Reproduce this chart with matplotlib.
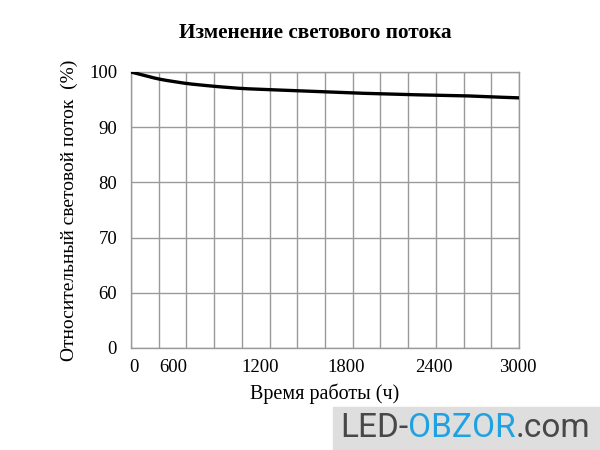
import numpy as np
import matplotlib
matplotlib.use('Agg')
from matplotlib import pyplot as plt
from matplotlib.patches import Rectangle

# curve (hours, relative flux %)
hours = [0, 214, 429, 643, 857, 1286, 1714, 2143, 2571, 3000]
flux = [100, 98.7, 97.9, 97.4, 97.0, 96.6, 96.2, 95.9, 95.7, 95.3]

# tick labels as printed (positions in the original drawing are uneven)
xtick_pos = [20, 330, 1000, 1660, 2340, 2990]
xtick_lab = ['0', '600', '1200', '1800', '2400', '3000']
ytick_pos = [50, 60, 70, 80, 90, 100]
ytick_lab = ['0', '60', '70', '80', '90', '100']

plt.rcParams['font.family'] = ['Liberation Serif', 'DejaVu Serif']

fig = plt.figure(figsize=(6, 4.5), dpi=100)
ax = fig.add_axes([131/600, 1-348/450, 388/600, 276/450])

xs = np.linspace(0, 3000, 200)
ys = np.interp(xs, hours, flux)
# smooth the polyline a bit
k = np.ones(9)/9
ys_s = np.convolve(np.pad(ys, 4, mode='edge'), k, mode='valid')
ys_s[:3] = ys[:3]
ax.plot(xs, ys_s, color='black', lw=2.4, solid_capstyle='round', zorder=3)

ax.set_xlim(0, 3000)
ax.set_ylim(50, 100)
ax.set_xticks(np.linspace(0, 3000, 15), minor=True)
ax.set_xticks(xtick_pos)
ax.set_xticklabels(xtick_lab)
ax.set_yticks(ytick_pos)
ax.set_yticklabels(ytick_lab)
ax.grid(True, which='minor', axis='x', color='#9a9a9a', lw=1)
ax.grid(True, which='major', axis='y', color='#9a9a9a', lw=1)
ax.tick_params(which='both', length=0, labelsize=13.5)
ax.tick_params(axis='x', pad=8)
ax.tick_params(axis='y', pad=10)
for s in ax.spines.values():
    s.set_color('#9a9a9a')
    s.set_linewidth(1)

ax.set_xlabel('Время работы (ч)', fontsize=14.5, labelpad=5)
ax.set_ylabel('Относительный световой поток  (%)', fontsize=14, labelpad=8)
fig.text(315/600, 1-33/450, 'Изменение светового потока', fontsize=15.3,
         fontweight='bold', ha='center', va='center')

# watermark
fig.patches.append(Rectangle((333/600, 0), 267/600, 43/450, transform=fig.transFigure,
                             color='#dedede', zorder=0))
fig.canvas.draw()
r = fig.canvas.get_renderer()
x = 340
for txt, c in [('LED-', '#484848'), ('OBZOR', '#1fa2e2'), ('.com', '#484848')]:
    t = fig.text(x/600, 1-428/450, txt, fontsize=24, family='Roboto', color=c,
                 va='center', ha='left')
    x += t.get_window_extent(r).width

fig.savefig('out.png', dpi=100)
